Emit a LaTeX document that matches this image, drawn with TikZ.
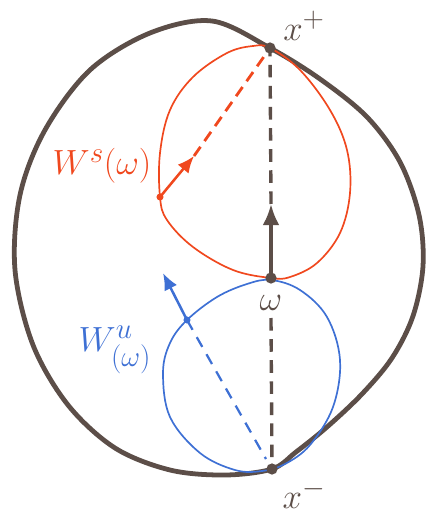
\documentclass[tikz,border=0pt]{standalone}
\usepackage{amsmath,amssymb}
\usetikzlibrary{arrows.meta,positioning,calc}
\definecolor{brownline}{RGB}{92,78,72}
\definecolor{stablered}{RGB}{240,72,30}
\definecolor{unstableblue}{RGB}{62,112,212}

\begin{document}
\begin{tikzpicture}[
    x=0.025cm, y=-0.025cm,
    outer/.style={brownline, line width=3.4pt, line join=round},
    sloop/.style={stablered, line width=1.2pt},
    uloop/.style={unstableblue, line width=1.2pt},
    bdash/.style={brownline, line width=2.4pt, dash pattern=on 9pt off 6pt},
    rdash/.style={stablered, line width=2pt, dash pattern=on 8pt off 5pt},
    udash/.style={unstableblue, line width=1.6pt, dash pattern=on 8pt off 6pt},
    pt/.style={circle, fill=brownline, inner sep=0pt, minimum size=8pt},
    lbl/.style={font=\fontsize{28}{32}\selectfont}
]
    \useasboundingbox (0,0) rectangle (426,518);

    % Points
    \coordinate (xp) at (270,48);
    \coordinate (w) at (271,278);
    \coordinate (xm) at (272,469);
    \coordinate (sdot) at (160,197);
    \coordinate (stip) at (194,156);
    \coordinate (udot) at (187,320);
    \coordinate (utip) at (163,273);
    \coordinate (wtip) at (271,204);

    % Outer boundary
    \draw[outer] plot[smooth cycle, tension=0.55] coordinates {
        (270,48) (320,79) (367,117) (400,162) (419,215) (423,266)
        (413,316) (392,358) (362,394) (327,427) (296,452) (272,469)
        (225,475) (170,470) (115,448) (68,405) (33,345)
        (15,270) (20,195) (45,130) (90,70) (150,33) (212,21)};

    % Stable manifold
    \draw[sloop] plot[smooth cycle, tension=0.6] coordinates {
        (270,48) (300,70) (330,110) (347,150) (350,193) (340,233)
        (317,263) (290,277) (271,278) (233,270) (193,247) (167,220)
        (160,197) (160,153) (170,110) (193,77) (227,53) (253,46)};

    % Unstable manifold
    \draw[uloop] plot[smooth cycle, tension=0.6] coordinates {
        (271,280) (300,290) (327,317) (340,360) (333,407) (310,445)
        (285,464) (262,471) (235,470) (200,453) (170,417) (163,373)
        (170,343) (187,320) (217,297) (247,284)};

    % Dashed connections
    \draw[bdash] (wtip) -- (xp);
    \draw[bdash] ($(w)+(0,40)$) -- (xm);
    \draw[rdash] (stip) -- (xp);
    \draw[udash] (udot) -- ($(xm)+(-6,-10)$);

    % Arrows
    \draw[brownline, line width=2.6pt, -{Latex[length=15pt,width=12pt]}] (w) -- (wtip);
    \draw[stablered, line width=1.8pt, -{Latex[length=12pt,width=10pt]}] (sdot) -- (stip);
    \draw[unstableblue, line width=1.8pt, -{Latex[length=12pt,width=10pt]}] (udot) -- (utip);

    % Dots
    \node[pt] (xpdot) at (xp) {};
    \node[pt] (wdot) at (w) {};
    \node[pt] (xmdot) at (xm) {};
    \node[circle, fill=stablered, inner sep=0pt, minimum size=5pt] (sdotn) at (sdot) {};
    \node[circle, fill=unstableblue, inner sep=0pt, minimum size=5pt] (udotn) at (udot) {};

    % Labels
    \node[lbl, brownline] (xplbl) at (304,26) {$x^{+}$};
    \node[lbl, brownline] (wlbl) at (271,303) {$\omega$};
    \node[lbl, brownline] (xmlbl) at (304,494) {$x^{-}$};
    \node[lbl, stablered] (slbl) at (102,166) {$W^{s}(\omega)$};
    \node[lbl, unstableblue] (ulbl) at (115,350) {$W^{u}_{(\omega)}$};
\end{tikzpicture}
\end{document}
